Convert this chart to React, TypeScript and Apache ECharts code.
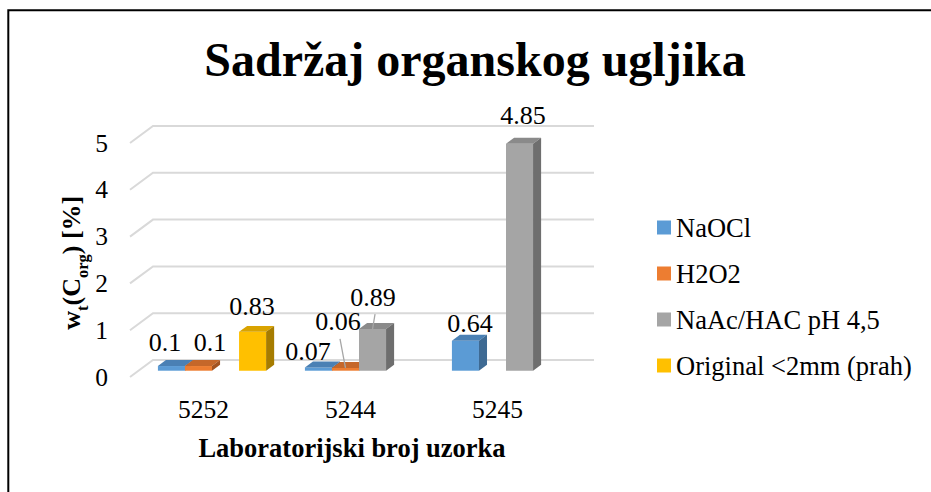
import React, { useEffect, useRef } from "react";
import * as echarts from "echarts";

const CATEGORIES = ["5252", "5244", "5245"];
const SERIES_NAMES = ["NaOCl", "H2O2", "NaAc/HAC pH 4,5", "Original <2mm (prah)"];
const NAOCL = [0.1, 0.07, 0.64];
const H2O2 = [0.1, 0.06, null];
const NAAC = [null, 0.89, 4.85];
const ORIGINAL = [0.83, null, null];
const Y_TICKS = [0, 1, 2, 3, 4, 5];

const SERIES_VALUES = [NAOCL, H2O2, NAAC, ORIGINAL];

const FRONT_COLORS = ["#5B9BD5", "#ED7D31", "#A5A5A5", "#FFC000"];
const TOP_COLORS = ["#4A80B4", "#C5672A", "#8A8A8A", "#D9A300"];
const SIDE_COLORS = ["#3E6A93", "#A35321", "#6E6E6E", "#A67C00"];

const SERIF = "Liberation Serif";

// layout: label nudges [dx, dy] relative to default position, per series/category
const LABEL_NUDGE: Record<string, [number, number]> = {
  "0-0": [-6.5, -4],
  "0-1": [-10.5, 4],
  "0-2": [4.5, 3],
  "1-0": [11.5, -4],
  "1-1": [-7.5, -26],
  "2-1": [0.5, -12],
  "2-2": [3.5, -8],
  "3-0": [-0.5, -5],
};
const LEADER = new Set(["1-1", "2-1"]);

const DEPTH_DX = 23;
const DEPTH_DY = -17;
const BAR_FRONT = 0.37;
const BAR_DEPTH = 0.35;
const BAR_FRAC = 0.184;

function barRenderer(si: number) {
  return (params: any, api: any) => {
    const ci = api.value(0);
    const v = api.value(1);
    const base = api.coord([ci, 0]);
    const top = api.coord([ci, v]);
    const band = api.size([1, 0])[0];
    const bw = band * BAR_FRAC;
    const ox = DEPTH_DX * BAR_FRONT;
    const oy = DEPTH_DY * BAR_FRONT;
    const ddx = DEPTH_DX * BAR_DEPTH;
    const ddy = DEPTH_DY * BAR_DEPTH;
    const x0 = base[0] - 2 * bw + si * bw + ox;
    const x1 = x0 + bw;
    const yb = base[1] + oy;
    const yt = top[1] + oy;
    const key = si + "-" + ci;
    const nudge = LABEL_NUDGE[key] || [0, 0];
    const cx = x0 + bw / 2;
    const lx = cx + nudge[0];
    const ly = yt - 20 + nudge[1];
    const children: any[] = [
      {
        type: "rect",
        shape: { x: x0, y: yt, width: bw, height: yb - yt },
        style: { fill: FRONT_COLORS[si] },
      },
      {
        type: "polygon",
        shape: {
          points: [
            [x0, yt],
            [x1, yt],
            [x1 + ddx, yt + ddy],
            [x0 + ddx, yt + ddy],
          ],
        },
        style: { fill: TOP_COLORS[si] },
      },
      {
        type: "polygon",
        shape: {
          points: [
            [x1, yt],
            [x1 + ddx, yt + ddy],
            [x1 + ddx, yb + ddy],
            [x1, yb],
          ],
        },
        style: { fill: SIDE_COLORS[si] },
      },
      {
        type: "text",
        z2: 100,
        x: lx,
        y: ly,
        style: {
          text: String(v),
          fontSize: 26,
          fontFamily: SERIF,
          fill: "#000",
          align: "center",
          verticalAlign: "middle",
        },
      },
    ];
    if (LEADER.has(key)) {
      children.push({
        type: "line",
        z2: 90,
        shape: { x1: lx + 2, y1: ly + 17, x2: cx, y2: yt },
        style: { stroke: "#A6A6A6", lineWidth: 1.3 },
      });
    }
    return { type: "group", children };
  };
}

function gridRenderer(params: any, api: any) {
  const v = api.value(1);
  const p = api.coord([0, v]);
  const band = api.size([1, 0])[0];
  const left = p[0] - band / 2;
  const right = left + CATEGORIES.length * band;
  return {
    type: "polyline",
    shape: {
      points: [
        [left, p[1]],
        [left + DEPTH_DX, p[1] + DEPTH_DY],
        [right + DEPTH_DX, p[1] + DEPTH_DY],
      ],
    },
    style: { stroke: "#D9D9D9", lineWidth: 2, fill: "none" },
  };
}

export default function App() {
  const ref = useRef<HTMLDivElement>(null);
  useEffect(() => {
    document.body.style.margin = "0";
    document.body.style.overflow = "hidden";
    document.documentElement.style.overflow = "hidden";
    if (!ref.current) return;
    const chart = echarts.init(ref.current, undefined, { renderer: "svg" });
    const barSeries = SERIES_VALUES.map((vals, si) => ({
      type: "custom",
      name: SERIES_NAMES[si],
      clip: false,
      itemStyle: { color: FRONT_COLORS[si] },
      renderItem: barRenderer(si),
      data: vals
        .map((v, ci) => (v == null ? null : [ci, v]))
        .filter((d) => d != null),
      encode: { x: 0, y: 1 },
    }));
    const option: any = {
      animation: false,
      textStyle: { fontFamily: SERIF },
      grid: {
        left: 130,
        top: 143,
        width: 441,
        height: 234,
        containLabel: false,
        outerBoundsMode: "none",
      },
      xAxis: {
        type: "category",
        data: CATEGORIES,
        axisLine: { show: false },
        axisTick: { show: false },
        splitLine: { show: false },
        axisLabel: { margin: 19, fontSize: 25.5, color: "#000", fontFamily: SERIF },
      },
      yAxis: {
        type: "value",
        min: 0,
        max: 5,
        interval: 1,
        axisLine: { show: false },
        axisTick: { show: false },
        splitLine: { show: false },
        axisLabel: { margin: 22, fontSize: 25.5, color: "#000", fontFamily: SERIF },
      },
      legend: {
        orient: "vertical",
        left: 657,
        top: 214,
        padding: 0,
        itemWidth: 14,
        itemHeight: 14,
        itemGap: 19,
        icon: "rect",
        selectedMode: false,
        data: SERIES_NAMES,
        textStyle: { fontSize: 26.5, fontFamily: SERIF, color: "#000", lineHeight: 26 },
      },
      series: [
        {
          type: "custom",
          name: "grid",
          silent: true,
          clip: false,
          z: 1,
          renderItem: gridRenderer,
          data: Y_TICKS.map((t) => [0, t]),
          encode: { x: 0, y: 1 },
        },
        ...barSeries,
      ],
      graphic: [
        {
          type: "polyline",
          shape: {
            points: [
              [8.3, 520],
              [8.3, 10.3],
              [931, 10.3],
            ],
          },
          style: { fill: "none", stroke: "#000", lineWidth: 2 },
          silent: true,
        },
        {
          type: "text",
          x: 475,
          y: 59,
          style: {
            text: "Sadržaj organskog ugljika",
            fontSize: 48,
            fontWeight: "bold",
            fontFamily: SERIF,
            fill: "#000",
            align: "center",
            verticalAlign: "middle",
          },
        },
        {
          type: "text",
          x: 352,
          y: 448,
          style: {
            text: "Laboratorijski broj uzorka",
            fontSize: 26.5,
            fontWeight: "bold",
            fontFamily: SERIF,
            fill: "#000",
            align: "center",
            verticalAlign: "middle",
          },
        },
        {
          type: "text",
          x: 74.5,
          y: 262.5,
          rotation: Math.PI / 2,
          style: {
            text: "{m|w}{s|t}{m|(C}{s|org}{m|) [%]}{z| }",
            align: "center",
            verticalAlign: "middle",
            fill: "#000",
            rich: {
              m: {
                fontSize: 26,
                fontWeight: "bold",
                fontFamily: SERIF,
                lineHeight: 26,
                verticalAlign: "top",
                fill: "#000",
              },
              s: {
                fontSize: 16.5,
                fontWeight: "bold",
                fontFamily: SERIF,
                lineHeight: 16,
                verticalAlign: "bottom",
                fill: "#000",
              },
              z: { fontSize: 2, fontFamily: SERIF, lineHeight: 32, verticalAlign: "middle" },
            },
          },
        },
      ],
    };
    chart.setOption(option);
    return () => chart.dispose();
  }, []);
  return <div ref={ref} style={{ width: 931, height: 492, overflow: "hidden" }} />;
}
